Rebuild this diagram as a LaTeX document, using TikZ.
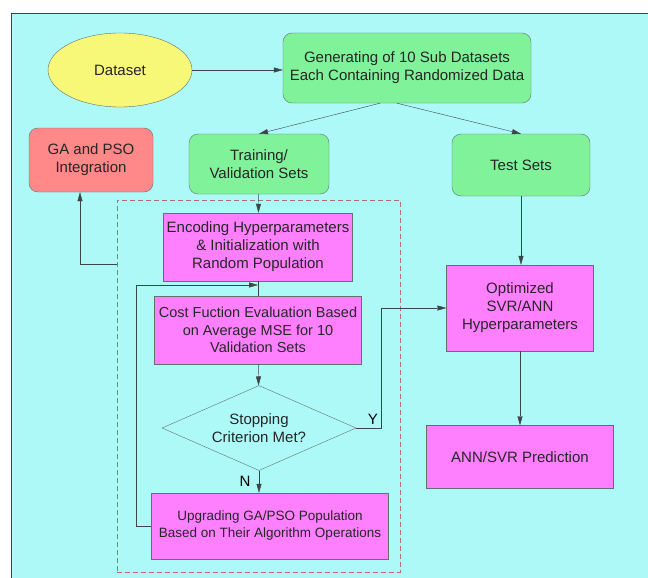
\documentclass[tikz,border=0pt]{standalone}
\usepackage{fontspec}
\setmainfont{Liberation Sans}
\usetikzlibrary{arrows.meta,shapes.geometric}

\definecolor{bgcyan}{RGB}{173,249,247}
\definecolor{setgreen}{RGB}{128,242,154}
\definecolor{datayellow}{RGB}{247,247,120}
\definecolor{gasalmon}{RGB}{255,136,136}
\definecolor{stepmagenta}{RGB}{255,128,255}
\definecolor{dashred}{RGB}{180,110,110}
\definecolor{edgegray}{RGB}{100,112,112}
\definecolor{linegray}{RGB}{60,70,70}

\begin{document}
\begin{tikzpicture}[x=1pt, y=-1pt, font=\fontsize{15}{18}\selectfont,
  box/.style={draw=edgegray, align=center, inner sep=2pt, text=black!85},
  greenbox/.style={box, fill=setgreen, rounded corners=9pt},
  pinkbox/.style={box, fill=stepmagenta},
  arr/.style={draw=linegray, -{Triangle[length=9pt,width=5pt]}},
  line/.style={draw=linegray}]
  \useasboundingbox (0,0) rectangle (648,578);
  \fill[bgcyan] (11,13) rectangle (648,578);
  \draw[linegray] (11,578) -- (11,13) -- (648,13);

  \node[box, ellipse, fill=datayellow, minimum width=144, minimum height=74] (data) at (120,70) {Dataset};
  \node[greenbox, minimum width=248, minimum height=70] (gen) at (407,68) {Generating of 10 Sub Datasets\\Each Containing Randomized Data};
  \node[box, fill=gasalmon, rounded corners=9pt, minimum width=124, minimum height=64] (ga) at (91,160) {GA and PSO\\Integration};
  \node[greenbox, minimum width=140, minimum height=60] (train) at (259,164) {Training/\\Validation Sets};
  \node[greenbox, minimum width=138, minimum height=62] (test) at (521,165) {Test Sets};

  % optimisation loop
  \node[draw=dashred, dash pattern=on 5pt off 3pt, minimum width=283, minimum height=372] (loopbox) at (258.5,386) {};
  \node[pinkbox, minimum width=189, minimum height=68] (enc) at (258,247) {Encoding Hyperparameters\\\& Initialization with\\Random Population};
  \node[pinkbox, minimum width=207, minimum height=68, font=\fontsize{14.5}{17.5}\selectfont] (cost) at (258,330) {Cost Fuction Evaluation Based\\on Average MSE for 10\\Validation Sets};
  \node[box, diamond, aspect=2.28, minimum width=194, minimum height=85, inner sep=0pt] (stop) at (259,428) {Stopping\\Criterion Met?};
  \node[pinkbox, minimum width=237, minimum height=66, font=\fontsize{13.5}{17}\selectfont] (upg) at (270,526) {Upgrading GA/PSO Population\\Based on Their Algorithm Operations};

  \node[pinkbox, minimum width=147, minimum height=86] (opt) at (520,308) {Optimized\\SVR/ANN\\Hyperparameters};
  \node[pinkbox, minimum width=187, minimum height=63] (pred) at (520,457) {ANN/SVR Prediction};

  \coordinate (evalin) at (258,285);
  \coordinate (gaback) at (117,264);

  \draw[arr] (data) -- (gen.west |- data);
  \draw[arr] ([xshift=-27pt]gen.south) -- (train.north);
  \draw[arr] ([xshift=-10pt]gen.south) -- (test.north);
  \draw[arr] (train) -- (enc);
  \draw[line] (enc) -- (cost);
  \draw[arr] (upg.west) -- ++(-15,0) |- (evalin);
  \draw[arr] (cost) -- (stop);
  \draw[arr] (stop.south) -- (stop.south |- upg.north) node[pos=0.5, left=5pt] {N};
  \draw[arr] (stop.east) -- ++(25,0) node[above left, inner sep=3pt] {Y} |- (opt.west);
  \draw[arr] (gaback) -| ([xshift=-11pt]ga.south);
  \draw[arr] (test) -- (test.south |- opt.north);
  \draw[arr] (opt) -- (pred);
\end{tikzpicture}
\end{document}
